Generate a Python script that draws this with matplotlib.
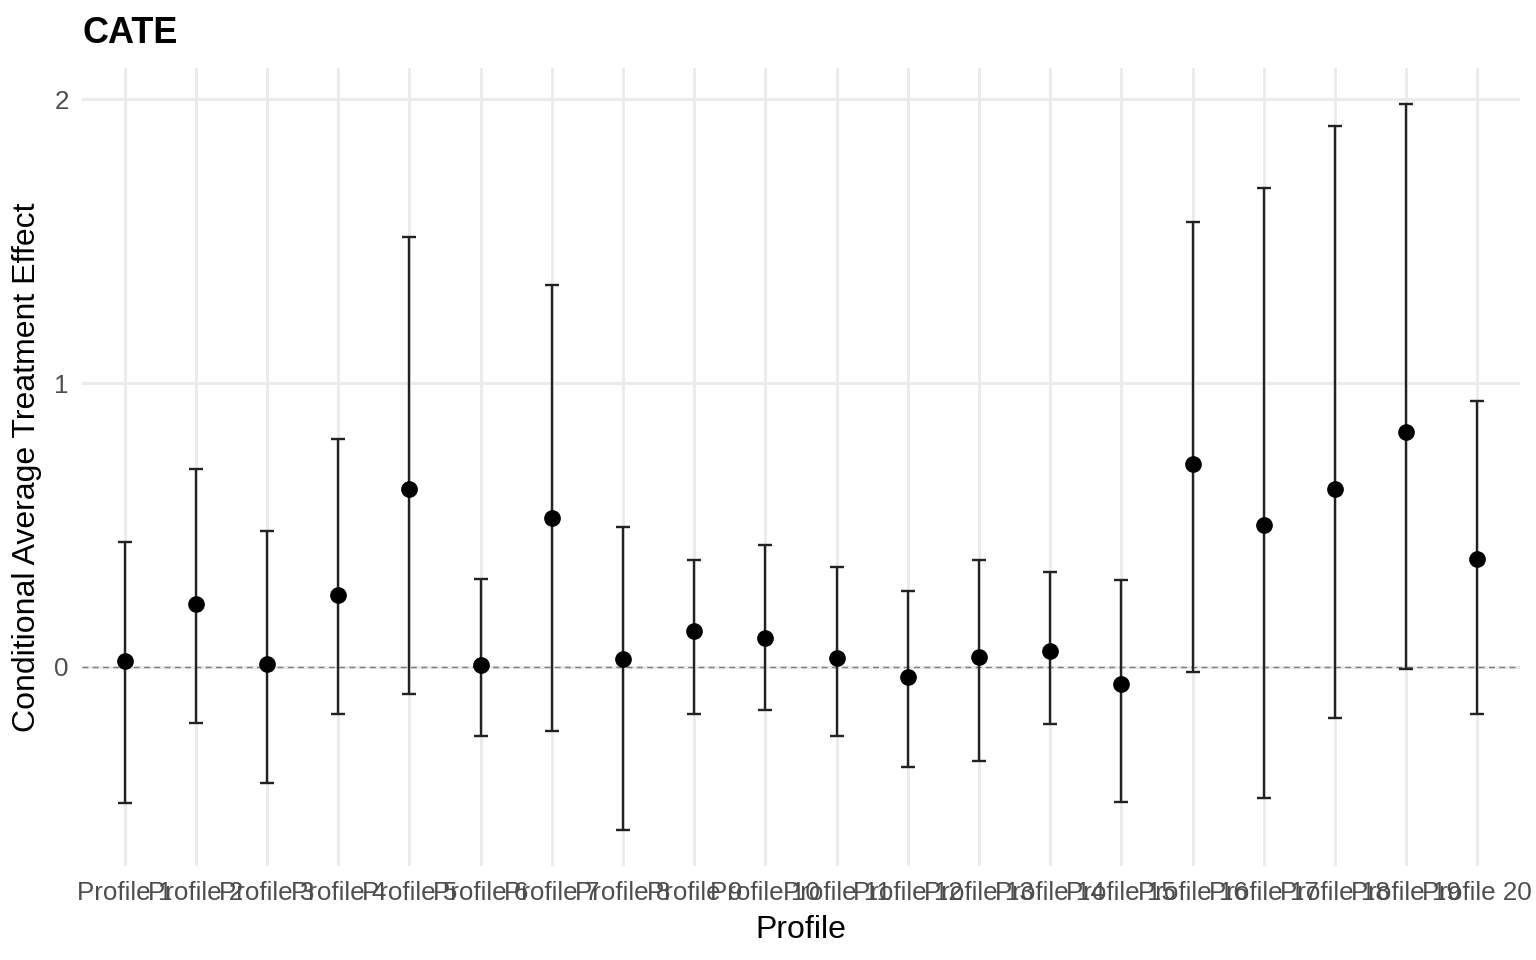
import matplotlib
matplotlib.use("Agg")
import matplotlib.pyplot as plt
import numpy as np

plt.rcParams['font.family'] = ['Liberation Sans', 'DejaVu Sans']

# === DATOS ===
profiles = [f"Profile {i}" for i in range(1, 21)]
cate = [0.021, 0.222, 0.011, 0.254, 0.627, 0.007, 0.525, 0.028, 0.127, 0.102,
        0.032, -0.035, 0.035, 0.056, -0.060, 0.716, 0.500, 0.627, 0.827, 0.380]
upper = [0.440, 0.697, 0.479, 0.803, 1.514, 0.310, 1.345, 0.493, 0.377, 0.430,
         0.352, 0.268, 0.377, 0.335, 0.306, 1.567, 1.687, 1.905, 1.982, 0.937]
lower = [-0.479, -0.197, -0.408, -0.165, -0.095, -0.243, -0.225, -0.574, -0.165, -0.151,
         -0.243, -0.352, -0.331, -0.201, -0.475, -0.018, -0.461, -0.180, -0.007, -0.165]

x = np.arange(len(profiles))
cate = np.array(cate)
yerr = [cate - np.array(lower), np.array(upper) - cate]

# === GRAFICO ===
fig = plt.figure(figsize=(16, 10), dpi=96)
ax = fig.add_axes([0.0534, 0.098, 0.9362, 0.831])

ax.axhline(0, color='#808080', linestyle=(0, (4, 3)), linewidth=1.1, zorder=1)
ax.errorbar(x, cate, yerr=yerr, fmt='o', color='black', ecolor='#222222',
            elinewidth=1.8, capsize=5.2, capthick=1.8, markersize=11.5, zorder=3)

ymin = min(lower)
ymax = max(upper)
pad = (ymax - ymin) * 0.05
ax.set_ylim(ymin - pad, ymax + pad)
ax.set_xlim(-0.6, len(profiles) - 1 + 0.6)

ax.set_xticks(x)
ax.set_xticklabels(profiles)
ax.set_yticks([0, 1, 2])
ax.tick_params(axis='both', length=0, labelsize=19.5, labelcolor='#4D4D4D')
ax.tick_params(axis='x', pad=11)
ax.tick_params(axis='y', pad=10)

ax.grid(True, color='#EBEBEB', linewidth=2.2)
ax.set_axisbelow(True)
for s in ax.spines.values():
    s.set_visible(False)

ax.set_xlabel("Profile", fontsize=24, labelpad=8)
ax.set_ylabel("Conditional Average Treatment Effect", fontsize=24, labelpad=9)
ax.set_title("CATE", fontsize=27, fontweight='bold', loc='left', pad=19)

fig.savefig("out.png", dpi=96)
